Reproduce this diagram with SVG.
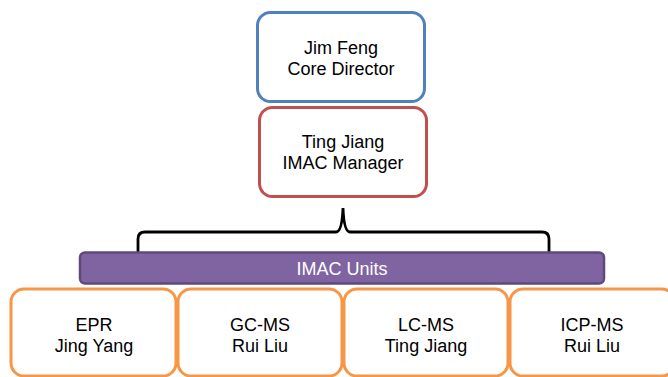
<svg xmlns="http://www.w3.org/2000/svg" width="668" height="377" viewBox="0 0 668 377">
<style>
text{font-family:"Liberation Sans",Arial,sans-serif;font-size:18px;fill:#000;text-anchor:middle}
.unit{fill:#fff;stroke:#F79646;stroke-width:3}
</style>
<rect width="668" height="377" fill="#fff"/>
<g id="connectors">
<path d="M138 252 L138 239 Q138 232 145 232 L336 232 Q342 232 343 208 Q344 232 350 232 L542 232 Q549 232 549 239 L549 252" fill="none" stroke="#000" stroke-width="2.8"/>
</g>
<g id="director">
<rect x="257.5" y="12.5" width="167" height="89" rx="13" fill="#fff" stroke="#4F81BD" stroke-width="3"/>
<text x="341" y="54">Jim Feng</text>
<text x="341" y="75">Core Director</text>
</g>
<g id="manager">
<rect x="259.5" y="107.5" width="167" height="89" rx="13" fill="#fff" stroke="#C0504D" stroke-width="3"/>
<text x="343" y="148">Ting Jiang</text>
<text x="343" y="169">IMAC Manager</text>
</g>
<g id="units">
<rect x="80" y="252.5" width="524" height="31" rx="5" fill="#8064A2" stroke="#5F497A" stroke-width="2.5"/>
<text x="342" y="275" style="fill:#fff">IMAC Units</text>
</g>
<g id="epr">
<rect class="unit" x="11" y="289" width="165" height="87" rx="13"/>
<text x="94" y="331">EPR</text>
<text x="94" y="352">Jing Yang</text>
</g>
<g id="gcms">
<rect class="unit" x="178" y="289" width="164" height="87" rx="13"/>
<text x="260" y="331">GC-MS</text>
<text x="260" y="352">Rui Liu</text>
</g>
<g id="lcms">
<rect class="unit" x="344" y="289" width="164" height="87" rx="13"/>
<text x="426" y="331">LC-MS</text>
<text x="426" y="352">Ting Jiang</text>
</g>
<g id="icpms">
<rect class="unit" x="510" y="289" width="165" height="87" rx="13"/>
<text x="592" y="331">ICP-MS</text>
<text x="592" y="352">Rui Liu</text>
</g>
</svg>
